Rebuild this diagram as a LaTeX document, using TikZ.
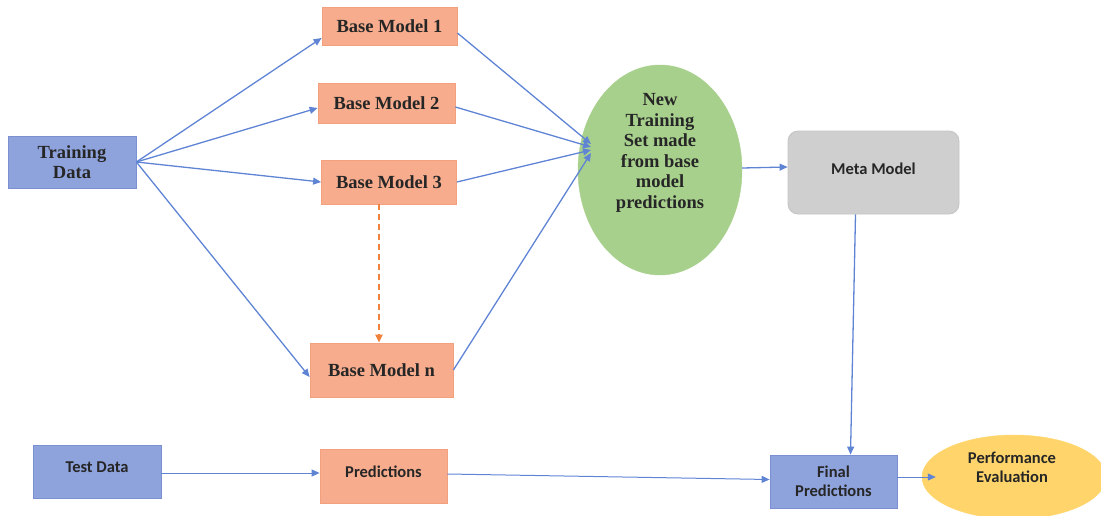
\documentclass[tikz,border=0pt]{standalone}
\usepackage{fontspec}
\setmainfont{Liberation Serif}
\newfontfamily\carlitofam{Carlito}[BoldFont={Carlito Bold}]
\usetikzlibrary{arrows.meta,shapes.geometric,calc}
\definecolor{bluefill}{HTML}{8EA2DC}
\definecolor{blueedge}{HTML}{7A90D2}
\definecolor{orfill}{HTML}{F6AC8D}
\definecolor{oredge}{HTML}{F2A07E}
\definecolor{grnfill}{HTML}{A8D08D}
\definecolor{grayfill}{HTML}{CFCFCF}
\definecolor{grayedge}{HTML}{C4C4C4}
\definecolor{yelfill}{HTML}{FFD56B}
\definecolor{linecol}{HTML}{5F84D4}
\definecolor{dashcol}{HTML}{F0823C}
\definecolor{txt}{HTML}{262626}
\tikzset{
  seriffont/.style={text=txt, align=center, font=\bfseries\fontsize{18.5}{20.5}\selectfont},
  sansfont/.style={text=txt, align=center, font=\carlitofam\bfseries\fontsize{16.5}{19}\selectfont},
  serifbox/.style={draw=#1, line width=0.8pt, inner sep=2pt, seriffont},
  sansbox/.style={draw=#1, line width=0.8pt, inner sep=2pt, sansfont},
  conn/.style={draw=linecol, line width=1.3pt, -{Triangle[length=8pt,width=7pt]}},
}
\begin{document}
\begin{tikzpicture}[x=1pt,y=-1pt]
\useasboundingbox (0,0) rectangle (1101,515);
% nodes
\node[serifbox=blueedge, fill=bluefill, minimum width=128pt, minimum height=52pt] (train) at (72,162) {Training\\Data};
\node[serifbox=oredge, fill=orfill, minimum width=135pt, minimum height=38pt] (bm1) at (389.5,26) {Base Model 1};
\node[serifbox=oredge, fill=orfill, minimum width=137pt, minimum height=40pt] (bm2) at (386.5,103) {Base Model 2};
\node[serifbox=oredge, fill=orfill, minimum width=135pt, minimum height=44pt] (bm3) at (389,182) {Base Model 3};
\node[serifbox=oredge, fill=orfill, minimum width=143pt, minimum height=54pt] (bmn) at (381.5,370) {Base Model n};
\node[ellipse, draw=grnfill, fill=grnfill, minimum width=164pt, minimum height=210pt, inner sep=0pt] (ell) at (660,170) {};
\node[seriffont] (elltxt) at (660,153) {New\\Training\\Set made\\from base\\model\\predictions};
\node[rounded corners=10pt, sansbox=grayedge, fill=grayfill, minimum width=171pt, minimum height=83pt] (meta) at (873.5,172.5) {\raisebox{8pt}{Meta Model}};
\node[sansbox=blueedge, fill=bluefill, minimum width=128pt, minimum height=53pt] (test) at (97,471.5) {\raisebox{9pt}{Test Data}};
\node[sansbox=oredge, fill=orfill, minimum width=127pt, minimum height=54pt] (pred) at (383.5,476) {\raisebox{9pt}{Predictions}};
\node[sansbox=blueedge, fill=bluefill, minimum width=127pt, minimum height=53pt] (fin) at (833.5,481.5) {Final\\Predictions};
\node[ellipse, draw=yelfill, fill=yelfill, minimum width=184pt, minimum height=84pt, inner sep=0pt] (perf) at (1014,477) {};
\node[sansfont] (perftxt) at (1012,467) {Performance\\Evaluation};
\coordinate (conv) at (591,148);
% connectors
\draw[conn] (train.east) -- ($(bm1.west)+(0,12)$);
\draw[conn] (train.east) -- ($(bm2.west)+(0,5)$);
\draw[conn] (train.east) -- (bm3.west);
\draw[conn] (train.east) -- ($(bmn.west)+(0,7)$);
\draw[conn] ($(bm1.east)+(0,7)$) -- ($(conv)+(0,-4)$);
\draw[conn] ($(bm2.east)+(0,4)$) -- ($(conv)+(0,-1)$);
\draw[conn] (bm3.east) -- ($(conv)+(0,2)$);
\draw[conn] (bmn.east) -- ($(conv)+(0,5)$);
\draw[conn] ($(ell.east)+(0,-2)$) -- ($(meta.west)+(0,-5.5)$);
\draw[conn] ($(meta.south)+(-18,0)$) -- ($(fin.north)+(17,0)$);
\draw[conn, line width=1pt] ($(test.east)+(0,1.5)$) -- ($(pred.west)+(0,-3)$);
\draw[conn, line width=1pt] ($(pred.east)+(0,-2)$) -- ($(fin.west)+(0,-2)$);
\draw[conn, line width=1pt] ($(fin.east)+(0,-4.5)$) -- ($(perf.west)+(14,0)$);
\draw[draw=dashcol, line width=2pt, dash pattern=on 6pt off 4pt, -{Triangle[length=8pt,width=7pt]}] ($(bm3.south)+(-10,0)$) -- ($(bmn.north)+(-2.5,0)$);
\end{tikzpicture}
\end{document}
